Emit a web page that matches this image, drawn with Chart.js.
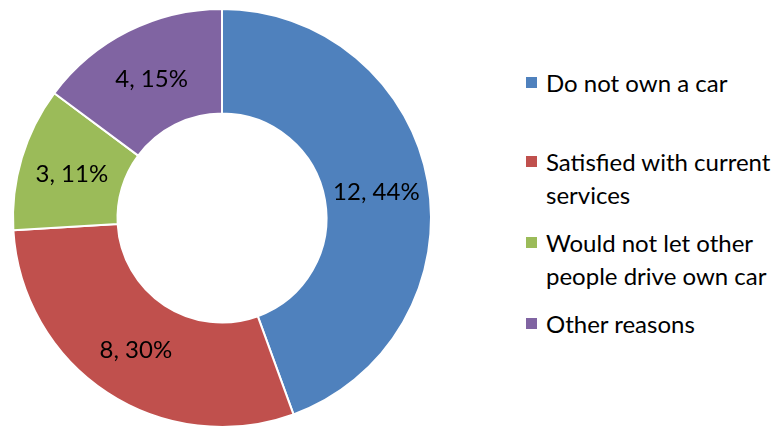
<!DOCTYPE html>
<html>
<head>
<meta charset="utf-8">
<script src="https://cdn.jsdelivr.net/npm/chart.js@4.4.1/dist/chart.umd.min.js"></script>
<style>
    html, body { margin: 0; padding: 0; background: #fff; }
    body { width: 778px; height: 430px; position: relative; overflow: hidden; font-family: Lato, "Liberation Sans", sans-serif; }
    #chart-wrap { position: absolute; left: 0; top: 0; width: 444px; height: 430px; }
    #legend { position: absolute; left: 526px; top: 66px; list-style: none; margin: 0; padding: 0; }
    #legend li { display: flex; align-items: flex-start; font-size: 24px; line-height: 33px; color: #000; margin-bottom: 15px; white-space: nowrap; }
    #legend li:first-child { margin-bottom: 46px; }
    #legend .box { width: 11px; height: 11px; margin-top: 11px; margin-right: 9px; flex: none; }
</style>
</head>
<body>
<div id="chart-wrap"><canvas id="reasons-chart"></canvas></div>
<ul id="legend"></ul>

<script>
const categories = ['Do not own a car', 'Satisfied with current services', 'Would not let other people drive own car', 'Other reasons'];
const legendLines = [['Do not own a car'], ['Satisfied with current', 'services'], ['Would not let other', 'people drive own car'], ['Other reasons']];
const counts = [12, 8, 3, 4];
const colors = ['#4F81BD', '#C0504D', '#9BBB59', '#8064A2'];

const total = counts.reduce((a, b) => a + b, 0);

// labels inside each slice: "count, pct%"
const sliceLabels = {
    id: 'sliceLabels',
    afterDatasetsDraw(chart) {
        const ctx = chart.ctx;
        const meta = chart.getDatasetMeta(0);
        ctx.save();
        ctx.font = '24px Lato, "Liberation Sans", sans-serif';
        ctx.fillStyle = '#000';
        ctx.textAlign = 'center';
        ctx.textBaseline = 'middle';
        meta.data.forEach(function(arc, i) {
            const pos = arc.tooltipPosition();
            const pct = Math.round(counts[i] / total * 100);
            ctx.fillText(counts[i] + ', ' + pct + '%', pos.x, pos.y + 1);
        });
        ctx.restore();
    }
};

const chart = new Chart(document.getElementById('reasons-chart'), {
    type: 'doughnut',
    data: {
        labels: categories,
        datasets: [{
            data: counts,
            backgroundColor: colors,
            borderColor: '#fff',
            borderWidth: 2
        }]
    },
    options: {
        responsive: true,
        maintainAspectRatio: false,
        animation: false,
        cutout: '50%',
        layout: { padding: { top: 8, bottom: 2 } },
        plugins: {
            legend: { display: false },
            tooltip: { enabled: false }
        }
    },
    plugins: [sliceLabels]
});

// legend with wrapped lines
const legend = document.getElementById('legend');
legendLines.forEach(function(lines, i) {
    const li = document.createElement('li');
    const box = document.createElement('span');
    box.className = 'box';
    box.style.background = colors[i];
    const txt = document.createElement('span');
    txt.innerHTML = lines.join('<br>');
    li.appendChild(box);
    li.appendChild(txt);
    legend.appendChild(li);
});
</script>
</body>
</html>
